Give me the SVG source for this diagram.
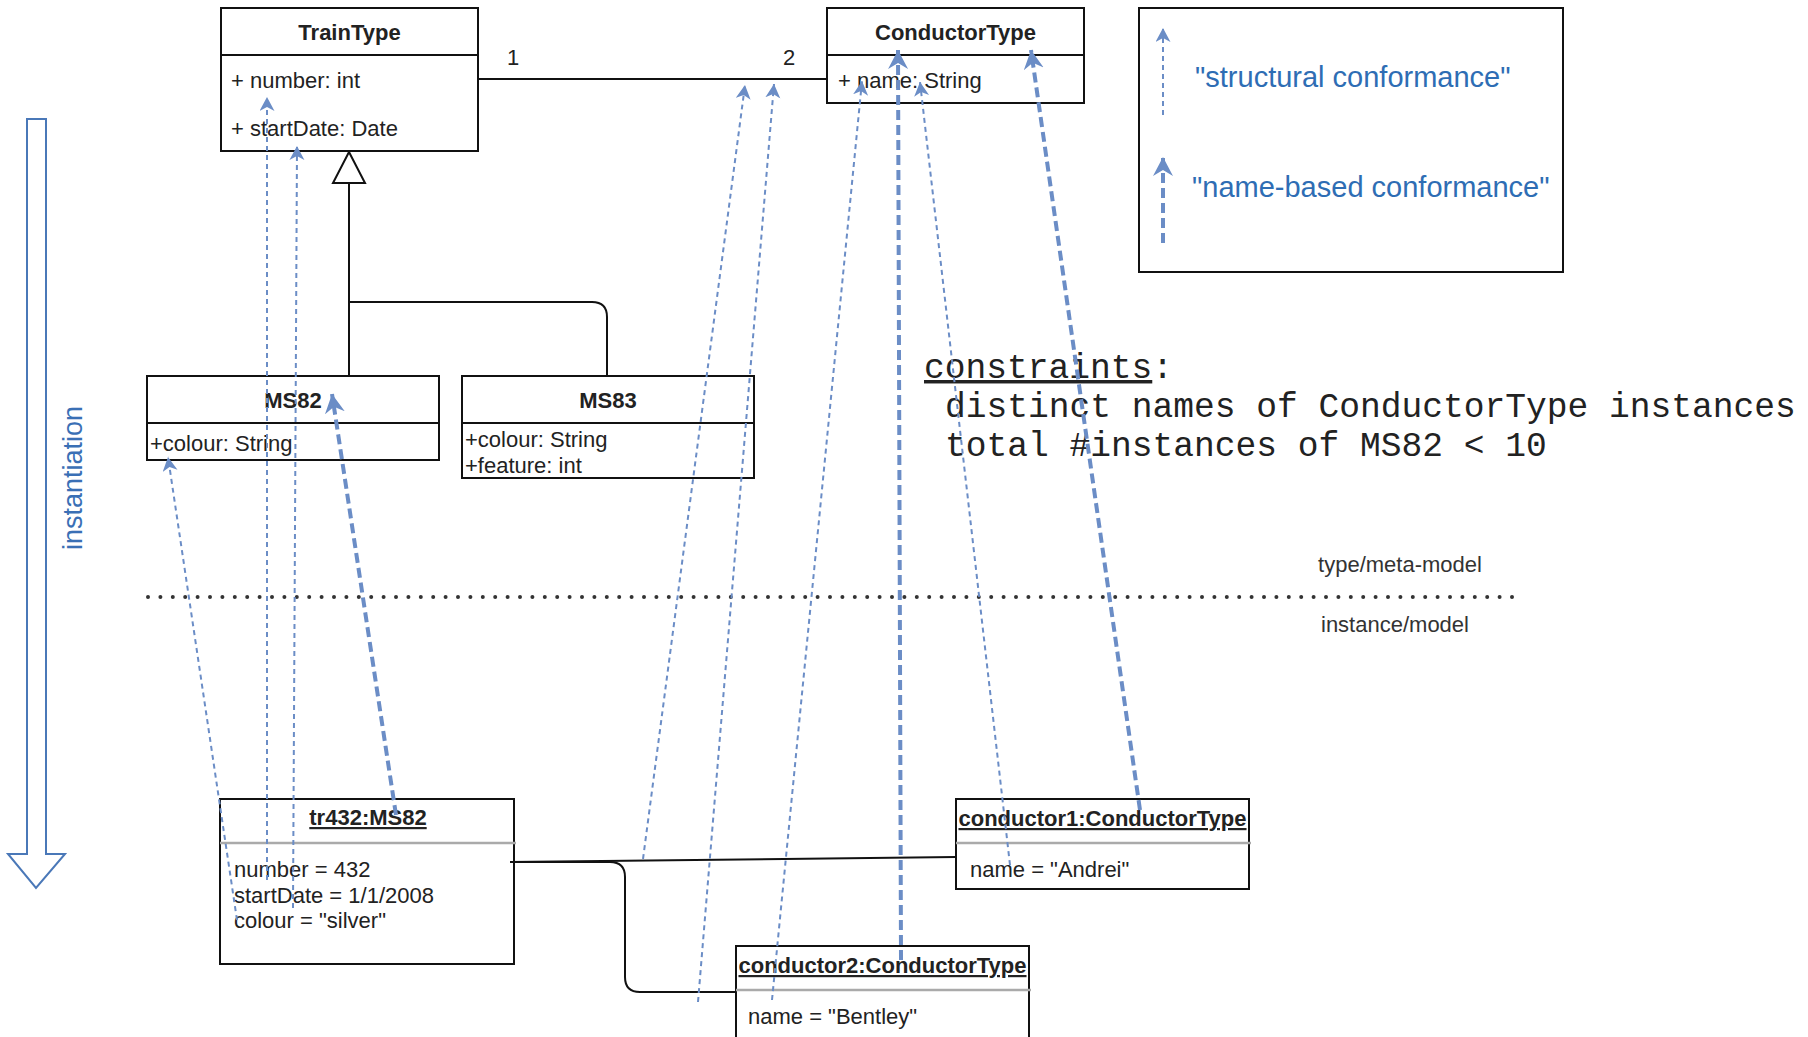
<svg xmlns="http://www.w3.org/2000/svg" width="1808" height="1037" viewBox="0 0 1808 1037">
<style>
text{font-family:"Liberation Sans",Arial,sans-serif;font-size:22px;fill:#222}
.b{font-weight:bold}
.u{text-decoration:underline}
.box{fill:#fff;stroke:#111;stroke-width:2}
.div{stroke:#111;stroke-width:2}
.gdiv{stroke:#aaa;stroke-width:2.5}
.line{fill:none;stroke:#111;stroke-width:2}
.thin{fill:none;stroke:#6b8dc6;stroke-width:2;stroke-dasharray:5 4}
.thick{fill:none;stroke:#6b8dc6;stroke-width:4;stroke-dasharray:10 5}
.blue{fill:#2e6db4;font-size:29px}
.mono{font-family:"Liberation Mono","Courier New",monospace;font-size:34.6px;fill:#222}
</style>
<defs>
<marker id="ah" markerUnits="userSpaceOnUse" markerWidth="18" markerHeight="18" refX="14" refY="7.5" orient="auto">
<path d="M0,0 L14,7.5 L0,15 L4,7.5 Z" fill="#6b8dc6"/>
</marker>
<marker id="ahb" markerUnits="userSpaceOnUse" markerWidth="22" markerHeight="22" refX="19" refY="10" orient="auto">
<path d="M0,0 L19,10 L0,20 L6,10 Z" fill="#6b8dc6"/>
</marker>
</defs>
<rect width="1808" height="1037" fill="#fff"/>

<g id="TrainType">
<rect class="box" x="221" y="8" width="257" height="143"/>
<line class="div" x1="221" y1="55" x2="478" y2="55"/>
<text class="b" x="349.5" y="40" text-anchor="middle">TrainType</text>
<text x="231" y="88">+ number: int</text>
<text x="231" y="136">+ startDate: Date</text>
</g>

<g id="ConductorType">
<rect class="box" x="827" y="8" width="257" height="95"/>
<line class="div" x1="827" y1="55" x2="1084" y2="55"/>
<text class="b" x="955.5" y="40" text-anchor="middle">ConductorType</text>
<text x="838" y="88">+ name: String</text>
</g>

<g id="MS82">
<rect class="box" x="147" y="376" width="292" height="84"/>
<line class="div" x1="147" y1="423" x2="439" y2="423"/>
<text class="b" x="293" y="408" text-anchor="middle">MS82</text>
<text x="150" y="451">+colour: String</text>
</g>

<g id="MS83">
<rect class="box" x="462" y="376" width="292" height="102"/>
<line class="div" x1="462" y1="423" x2="754" y2="423"/>
<text class="b" x="608" y="408" text-anchor="middle">MS83</text>
<text x="465" y="447">+colour: String</text>
<text x="465" y="473">+feature: int</text>
</g>

<g id="legend">
<rect class="box" x="1139" y="8" width="424" height="264"/>
<text class="blue" x="1195" y="87">"structural conformance"</text>
<text class="blue" x="1192" y="197">"name-based conformance"</text>
</g>

<g id="instantiation">
<path d="M27,119 H46 V854 H65 L36,888 L8,854 H27 Z" fill="#fff" stroke="#4a78b8" stroke-width="2"/>
<text x="0" y="0" transform="translate(82,478) rotate(-90)" text-anchor="middle" style="font-size:27px;fill:#3a6fb5">instantiation</text>
</g>

<g id="constraints">
<text class="mono" x="924" y="378"><tspan class="u">constraints</tspan>:</text>
<text class="mono" x="945" y="417">distinct names of ConductorType instances</text>
<text class="mono" x="945" y="456">total #instances of MS82 &lt; 10</text>
</g>

<g id="levels">
<text x="1400" y="572" text-anchor="middle" style="fill:#333">type/meta-model</text>
<line x1="148" y1="597" x2="1520" y2="597" stroke="#333" stroke-width="4" stroke-linecap="round" stroke-dasharray="0 12.4"/>
<text x="1395" y="632" text-anchor="middle" style="fill:#333">instance/model</text>
</g>

<g id="tr432">
<rect class="box" x="220" y="799" width="294" height="165"/>
<line class="gdiv" x1="220" y1="843" x2="516" y2="843"/>
<text class="b u" x="368" y="825" text-anchor="middle">tr432:MS82</text>
<text x="234" y="877">number = 432</text>
<text x="234" y="903">startDate = 1/1/2008</text>
<text x="234" y="928">colour = "silver"</text>
</g>

<g id="conductor1">
<rect class="box" x="956" y="799" width="293" height="90"/>
<line class="gdiv" x1="956" y1="843" x2="1251" y2="843"/>
<text class="b u" x="1102.5" y="826" text-anchor="middle">conductor1:ConductorType</text>
<text x="970" y="877">name = "Andrei"</text>
</g>

<g id="conductor2">
<rect class="box" x="736" y="946" width="293" height="100"/>
<line class="gdiv" x1="736" y1="990" x2="1031" y2="990"/>
<text class="b u" x="882.5" y="973" text-anchor="middle">conductor2:ConductorType</text>
<text x="748" y="1024">name = "Bentley"</text>
</g>

<g id="connectors">
<path class="line" d="M478,79 H827"/>
<text x="513" y="65" text-anchor="middle">1</text>
<text x="789" y="65" text-anchor="middle">2</text>
<path class="line" d="M349,183 V376"/>
<path class="line" d="M349,302 H592 Q607,302 607,317 V376"/>
<polygon points="349,152 333,183 365,183" fill="#fff" stroke="#111" stroke-width="2"/>
<path class="line" d="M510,862 L956,857"/>
<path class="line" d="M510,862 H610 Q625,862 625,877 V977 Q625,992 640,992 H736"/>

<path class="thin" d="M267,880 L267,97" marker-end="url(#ah)"/>
<path class="thin" d="M293,908 L297,146" marker-end="url(#ah)"/>
<path class="thin" d="M237,920 L168,457" marker-end="url(#ah)"/>
<path class="thick" d="M396,815 L332,394" marker-end="url(#ahb)"/>
<path class="thin" d="M643,859 L745,85" marker-end="url(#ah)"/>
<path class="thin" d="M698,1002 L774,84" marker-end="url(#ah)"/>
<path class="thin" d="M772,1000 L862,81" marker-end="url(#ah)"/>
<path class="thick" d="M901,960 L898,50" marker-end="url(#ahb)"/>
<path class="thin" d="M1010,865 L920,82" marker-end="url(#ah)"/>
<path class="thick" d="M1140,810 L1031,50" marker-end="url(#ahb)"/>
<path class="thin" d="M1163,115 L1163,28" marker-end="url(#ah)"/>
<path class="thick" d="M1163,243 L1163,157" marker-end="url(#ahb)"/>
</g>
</svg>
